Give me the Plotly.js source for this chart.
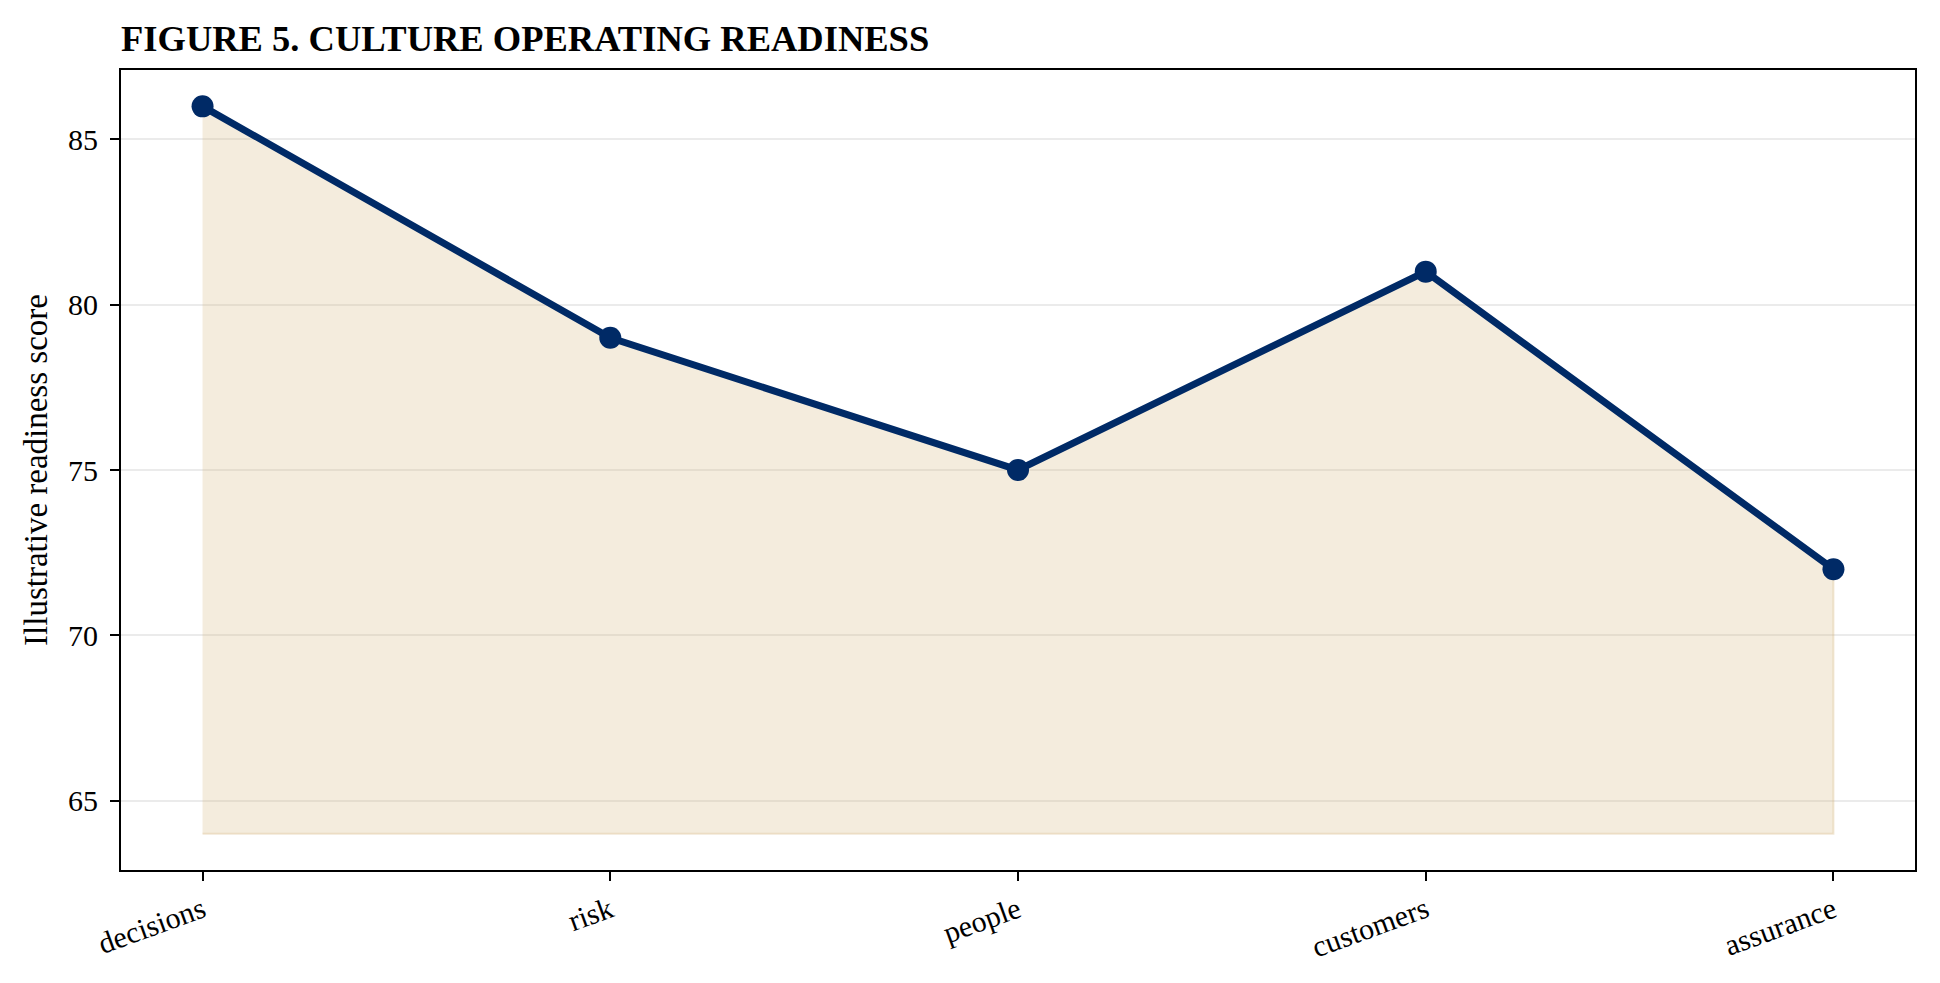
<!DOCTYPE html>
<html>
<head>
<meta charset="utf-8">
<script src="https://cdn.plot.ly/plotly-3.0.1.min.js"></script>
<style>
  html, body { margin: 0; padding: 0; background: #fff; }
  #graphDiv { width: 1940px; height: 983px; }
</style>
</head>
<body>
<div id="graphDiv"></div>
<script>
// Chart data
const categories = ['decisions', 'risk', 'people', 'customers', 'assurance'];
const readiness = [86, 79, 75, 81, 72];
const baseline = [64, 64, 64, 64, 64];
const yTicks = [65, 70, 75, 80, 85];

const serif = '"Liberation Serif", "Times New Roman", serif';
const navy = '#002a66';

// Shaded area between the baseline and the scores (closed polygon)
const areaX = categories.concat(categories.slice().reverse());
const areaY = readiness.concat(baseline.slice().reverse());

const area = {
	type: 'scatter',
	mode: 'lines',
	x: areaX,
	y: areaY,
	fill: 'toself',
	fillcolor: 'rgba(212,180,120,0.25)',
	line: { color: 'rgba(212,180,120,0.3)', width: 2 },
	hoverinfo: 'skip',
};

// Score line with markers
const scoreLine = {
	type: 'scatter',
	mode: 'lines+markers',
	x: categories,
	y: readiness,
	line: { color: navy, width: 7 },
	marker: { color: navy, size: 22 },
};

const layout = {
	width: 1940,
	height: 983,
	paper_bgcolor: '#fff',
	plot_bgcolor: '#fff',
	showlegend: false,
	margin: { l: 121, r: 25, t: 70, b: 113 },
	font: { family: serif, color: '#000', size: 30 },
	title: {
		text: '<b>FIGURE 5. CULTURE OPERATING READINESS</b>',
		font: { family: serif, size: 36.5, color: '#000' },
		xref: 'paper',
		x: 0,
		xanchor: 'left',
		yref: 'container',
		y: 1 - 38 / 983,
		yanchor: 'middle',
	},
	xaxis: {
		type: 'category',
		range: [-0.2, 4.2],
		showgrid: false,
		zeroline: false,
		showline: true,
		mirror: true,
		linecolor: '#000',
		linewidth: 2,
		ticks: 'outside',
		ticklen: 9,
		tickwidth: 2,
		tickcolor: '#000',
		tickangle: -20,
		tickfont: { family: serif, size: 30, color: '#000' },
	},
	yaxis: {
		range: [62.9, 87.1],
		tickvals: yTicks,
		ticktext: yTicks.map(String),
		showgrid: true,
		gridcolor: '#ebebeb',
		gridwidth: 2,
		zeroline: false,
		showline: true,
		mirror: true,
		linecolor: '#000',
		linewidth: 2,
		ticks: 'outside',
		ticklen: 9,
		tickwidth: 2,
		tickcolor: '#000',
		ticklabelstandoff: 6,
		tickfont: { family: serif, size: 30, color: '#000' },
		title: {
			text: 'Illustrative readiness score',
			font: { family: serif, size: 33, color: '#000' },
			standoff: 10,
		},
	},
};

Plotly.newPlot('graphDiv', [area, scoreLine], layout, { displayModeBar: false, staticPlot: true });
</script>
</body>
</html>
